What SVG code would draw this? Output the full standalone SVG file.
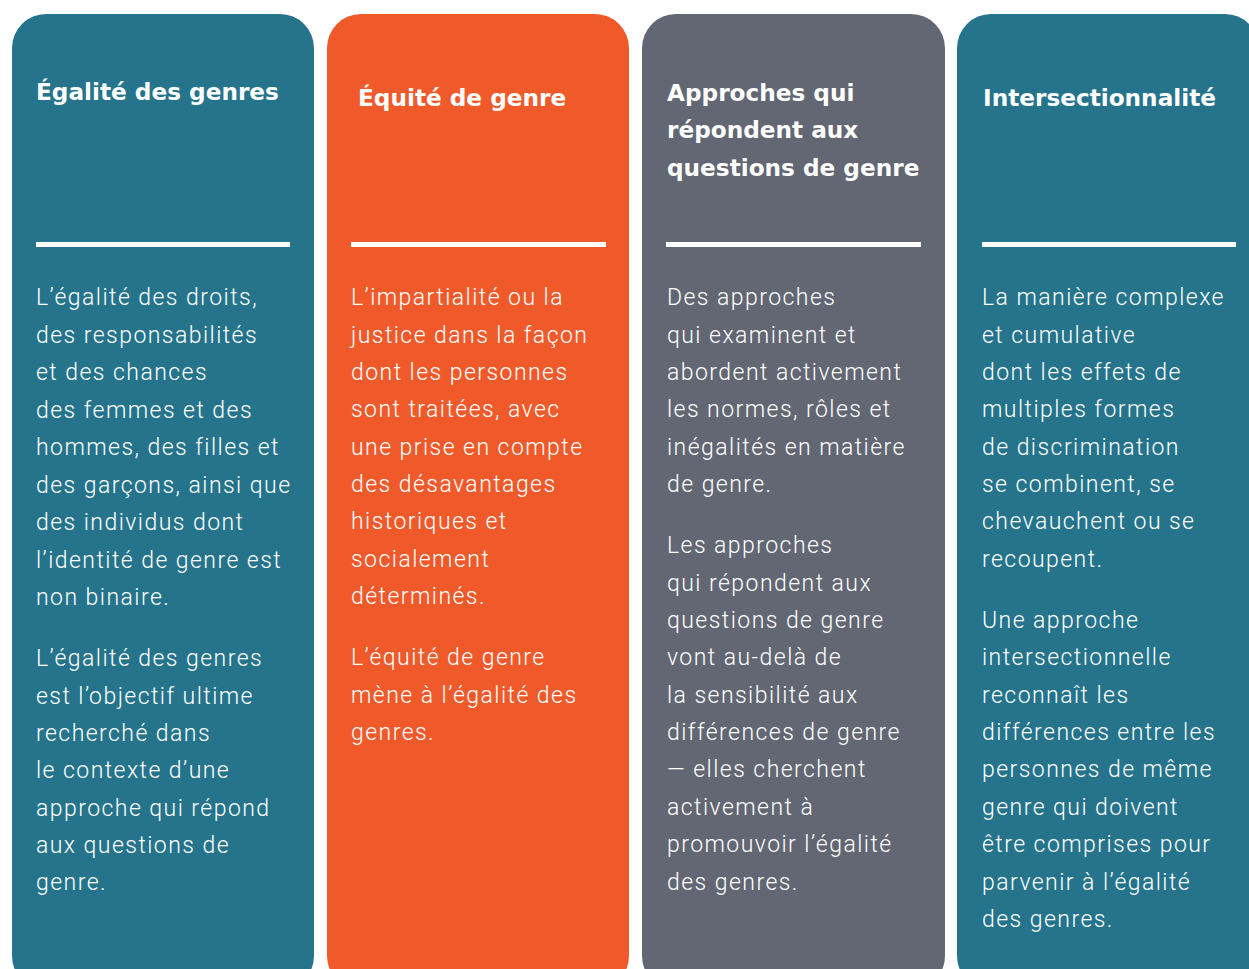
<svg xmlns="http://www.w3.org/2000/svg" width="1249" height="969" viewBox="0 0 1249 969">
<style>
.t{font-family:"DejaVu Sans","Liberation Sans",sans-serif;font-weight:700;font-size:23.2px;fill:#fff}
.b{font-family:Roboto,"Liberation Sans",sans-serif;font-weight:300;font-size:23px;letter-spacing:1.45px;fill:#fff}
.div{fill:#fff}
</style>
<rect width="1249" height="969" fill="#fff"/>
<g id="col-egalite">
<rect x="12" y="14" width="302" height="976" rx="34" fill="#25748b"/>
<text class="t" x="36" y="100">Égalité des genres</text>
<rect class="div" x="36" y="242" width="254" height="5"/>
<text class="b" x="36"><tspan x="36" y="305">L’égalité des droits,</tspan><tspan x="36" y="343">des responsabilités</tspan><tspan x="36" y="380">et des chances</tspan><tspan x="36" y="418">des femmes et des</tspan><tspan x="36" y="455">hommes, des filles et</tspan><tspan x="36" y="493">des garçons, ainsi que</tspan><tspan x="36" y="530">des individus dont</tspan><tspan x="36" y="568">l’identité de genre est</tspan><tspan x="36" y="605">non binaire.</tspan><tspan x="36" y="666">L’égalité des genres</tspan><tspan x="36" y="704">est l’objectif ultime</tspan><tspan x="36" y="741">recherché dans</tspan><tspan x="36" y="778">le contexte d’une</tspan><tspan x="36" y="816">approche qui répond</tspan><tspan x="36" y="853">aux questions de</tspan><tspan x="36" y="890">genre.</tspan></text>
</g>
<g id="col-equite">
<rect x="327" y="14" width="302" height="976" rx="34" fill="#f05a2b"/>
<text class="t" x="358" y="106">Équité de genre</text>
<rect class="div" x="351" y="242" width="255" height="5"/>
<text class="b"><tspan x="351" y="305">L’impartialité ou la</tspan><tspan x="351" y="343">justice dans la façon</tspan><tspan x="351" y="380">dont les personnes</tspan><tspan x="351" y="417">sont traitées, avec</tspan><tspan x="351" y="455">une prise en compte</tspan><tspan x="351" y="492">des désavantages</tspan><tspan x="351" y="529">historiques et</tspan><tspan x="351" y="567">socialement</tspan><tspan x="351" y="604">déterminés.</tspan><tspan x="351" y="665">L’équité de genre</tspan><tspan x="351" y="703">mène à l’égalité des</tspan><tspan x="351" y="740">genres.</tspan></text>
</g>
<g id="col-approches">
<rect x="642" y="14" width="303" height="976" rx="34" fill="#626773"/>
<text class="t"><tspan x="667" y="101">Approches qui</tspan><tspan x="667" y="138">répondent aux</tspan><tspan x="667" y="176">questions de genre</tspan></text>
<rect class="div" x="666" y="242" width="255" height="5"/>
<text class="b"><tspan x="667" y="305">Des approches</tspan><tspan x="667" y="343">qui examinent et</tspan><tspan x="667" y="380">abordent activement</tspan><tspan x="667" y="417">les normes, rôles et</tspan><tspan x="667" y="455">inégalités en matière</tspan><tspan x="667" y="492">de genre.</tspan><tspan x="667" y="553">Les approches</tspan><tspan x="667" y="591">qui répondent aux</tspan><tspan x="667" y="628">questions de genre</tspan><tspan x="667" y="665">vont au-delà de</tspan><tspan x="667" y="703">la sensibilité aux</tspan><tspan x="667" y="740">différences de genre</tspan><tspan x="667" y="777">— elles cherchent</tspan><tspan x="667" y="815">activement à</tspan><tspan x="667" y="852">promouvoir l’égalité</tspan><tspan x="667" y="890">des genres.</tspan></text>
</g>
<g id="col-intersectionnalite">
<rect x="957" y="14" width="302" height="976" rx="34" fill="#25748b"/>
<text class="t" x="983" y="106">Intersectionnalité</text>
<rect class="div" x="982" y="242" width="254" height="5"/>
<text class="b"><tspan x="982" y="305">La manière complexe</tspan><tspan x="982" y="343">et cumulative</tspan><tspan x="982" y="380">dont les effets de</tspan><tspan x="982" y="417">multiples formes</tspan><tspan x="982" y="455">de discrimination</tspan><tspan x="982" y="492">se combinent, se</tspan><tspan x="982" y="529">chevauchent ou se</tspan><tspan x="982" y="567">recoupent.</tspan><tspan x="982" y="628">Une approche</tspan><tspan x="982" y="665">intersectionnelle</tspan><tspan x="982" y="703">reconnaît les</tspan><tspan x="982" y="740">différences entre les</tspan><tspan x="982" y="777">personnes de même</tspan><tspan x="982" y="815">genre qui doivent</tspan><tspan x="982" y="852">être comprises pour</tspan><tspan x="982" y="890">parvenir à l’égalité</tspan><tspan x="982" y="927">des genres.</tspan></text>
</g>
<g id="connectors"/>
</svg>
